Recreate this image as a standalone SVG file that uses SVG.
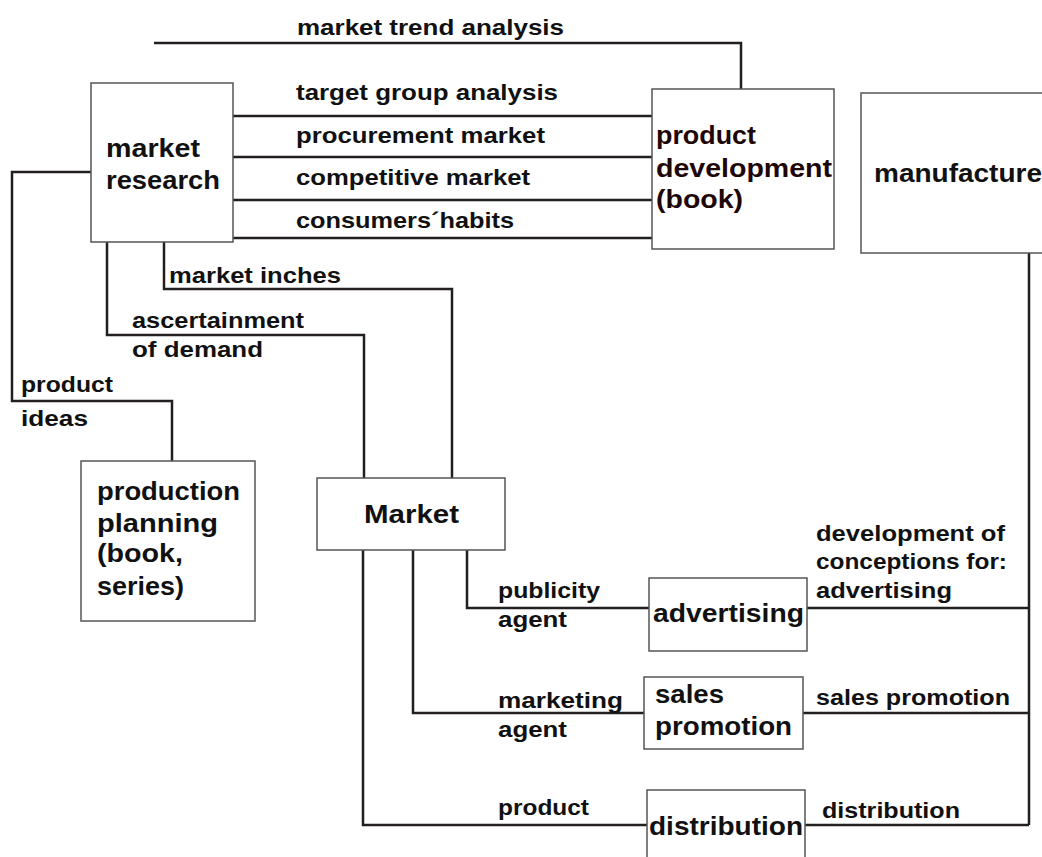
<svg xmlns="http://www.w3.org/2000/svg" width="1042" height="857" viewBox="0 0 1042 857">
<style>
.box{fill:#fff;stroke:#555;stroke-width:1.5}
.ln{fill:none;stroke:#231f20;stroke-width:2.5}
.lb{font-family:"Liberation Sans",Arial,sans-serif;font-weight:bold;font-size:22px;fill:#111}
.nt{font-family:"Liberation Sans",Arial,sans-serif;font-weight:bold;font-size:25px;fill:#111}
.br{fill:#1e0606}
</style>
<rect width="1042" height="857" fill="#fff"/>
<g id="connectors">
<polyline class="ln" points="154,43 741,43 741,89"/>
<line class="ln" x1="233" y1="116" x2="652" y2="116"/>
<line class="ln" x1="233" y1="157" x2="652" y2="157"/>
<line class="ln" x1="233" y1="200" x2="652" y2="200"/>
<line class="ln" x1="233" y1="238" x2="652" y2="238"/>
<polyline class="ln" points="91,172 12,172 12,401 172,401 172,461"/>
<polyline class="ln" points="107,242 107,335 364,335 364,478"/>
<polyline class="ln" points="164,242 164,289 452,289 452,478"/>
<polyline class="ln" points="1029,253 1029,825"/>
<line class="ln" x1="807" y1="608" x2="1029" y2="608"/>
<line class="ln" x1="803" y1="713" x2="1029" y2="713"/>
<line class="ln" x1="805" y1="825" x2="1029" y2="825"/>
<polyline class="ln" points="363,550 363,825 647,825"/>
<polyline class="ln" points="413,550 413,713 644,713"/>
<polyline class="ln" points="467,550 467,608 649,608"/>
</g>
<g id="labels">
<text class="lb" x="297" y="35" textLength="267" lengthAdjust="spacingAndGlyphs">market trend analysis</text>
<text class="lb" x="296" y="100" textLength="262" lengthAdjust="spacingAndGlyphs">target group analysis</text>
<text class="lb" x="296" y="143" textLength="249" lengthAdjust="spacingAndGlyphs">procurement market</text>
<text class="lb" x="296" y="185" textLength="234" lengthAdjust="spacingAndGlyphs">competitive market</text>
<text class="lb" x="296" y="228" textLength="218" lengthAdjust="spacingAndGlyphs">consumers´habits</text>
<text class="lb" x="169" y="283" textLength="172" lengthAdjust="spacingAndGlyphs">market inches</text>
<text class="lb" x="132" y="328" textLength="172" lengthAdjust="spacingAndGlyphs">ascertainment</text>
<text class="lb" x="132" y="357" textLength="131" lengthAdjust="spacingAndGlyphs">of demand</text>
<text class="lb" x="21" y="392" textLength="92" lengthAdjust="spacingAndGlyphs">product</text>
<text class="lb" x="21" y="426" textLength="67" lengthAdjust="spacingAndGlyphs">ideas</text>
<text class="lb" x="498" y="598" textLength="102" lengthAdjust="spacingAndGlyphs">publicity</text>
<text class="lb" x="498" y="627" textLength="69" lengthAdjust="spacingAndGlyphs">agent</text>
<text class="lb" x="498" y="708" textLength="125" lengthAdjust="spacingAndGlyphs">marketing</text>
<text class="lb" x="498" y="737" textLength="69" lengthAdjust="spacingAndGlyphs">agent</text>
<text class="lb" x="498" y="815" textLength="91" lengthAdjust="spacingAndGlyphs">product</text>
<text class="lb" x="816" y="541" textLength="189" lengthAdjust="spacingAndGlyphs">development of</text>
<text class="lb" x="816" y="569" textLength="191" lengthAdjust="spacingAndGlyphs">conceptions for:</text>
<text class="lb" x="816" y="598" textLength="136" lengthAdjust="spacingAndGlyphs">advertising</text>
<text class="lb" x="816" y="705" textLength="194" lengthAdjust="spacingAndGlyphs">sales promotion</text>
<text class="lb" x="822" y="818" textLength="138" lengthAdjust="spacingAndGlyphs">distribution</text>
</g>
<g id="market-research">
<rect class="box" x="91" y="83" width="142" height="159"/>
<text class="nt" x="106" y="157" textLength="94" lengthAdjust="spacingAndGlyphs">market</text>
<text class="nt" x="106" y="189" textLength="114" lengthAdjust="spacingAndGlyphs">research</text>
</g>
<g id="product-development">
<rect class="box" x="652" y="89" width="182" height="160"/>
<text class="nt br" x="656" y="144" textLength="100" lengthAdjust="spacingAndGlyphs">product</text>
<text class="nt br" x="656" y="177" textLength="176" lengthAdjust="spacingAndGlyphs">development</text>
<text class="nt br" x="656" y="208" textLength="87" lengthAdjust="spacingAndGlyphs">(book)</text>
</g>
<g id="manufacture">
<rect class="box" x="861" y="93" width="200" height="160"/>
<text class="nt" x="874" y="182" textLength="168" lengthAdjust="spacingAndGlyphs">manufacture</text>
</g>
<g id="production-planning">
<rect class="box" x="81" y="461" width="174" height="160"/>
<text class="nt" x="97" y="500" textLength="143" lengthAdjust="spacingAndGlyphs">production</text>
<text class="nt" x="97" y="532" textLength="121" lengthAdjust="spacingAndGlyphs">planning</text>
<text class="nt" x="97" y="562" textLength="86" lengthAdjust="spacingAndGlyphs">(book,</text>
<text class="nt" x="97" y="595" textLength="87" lengthAdjust="spacingAndGlyphs">series)</text>
</g>
<g id="market">
<rect class="box" x="317" y="478" width="188" height="72"/>
<text class="nt" x="364" y="523" textLength="95" lengthAdjust="spacingAndGlyphs">Market</text>
</g>
<g id="advertising">
<rect class="box" x="649" y="578" width="158" height="73"/>
<text class="nt" x="653" y="622" textLength="151" lengthAdjust="spacingAndGlyphs">advertising</text>
</g>
<g id="sales-promotion">
<rect class="box" x="644" y="677" width="159" height="72"/>
<text class="nt" x="655" y="703" textLength="69" lengthAdjust="spacingAndGlyphs">sales</text>
<text class="nt" x="655" y="735" textLength="137" lengthAdjust="spacingAndGlyphs">promotion</text>
</g>
<g id="distribution">
<rect class="box" x="647" y="790" width="158" height="90"/>
<text class="nt" x="649" y="835" textLength="154" lengthAdjust="spacingAndGlyphs">distribution</text>
</g>
</svg>
